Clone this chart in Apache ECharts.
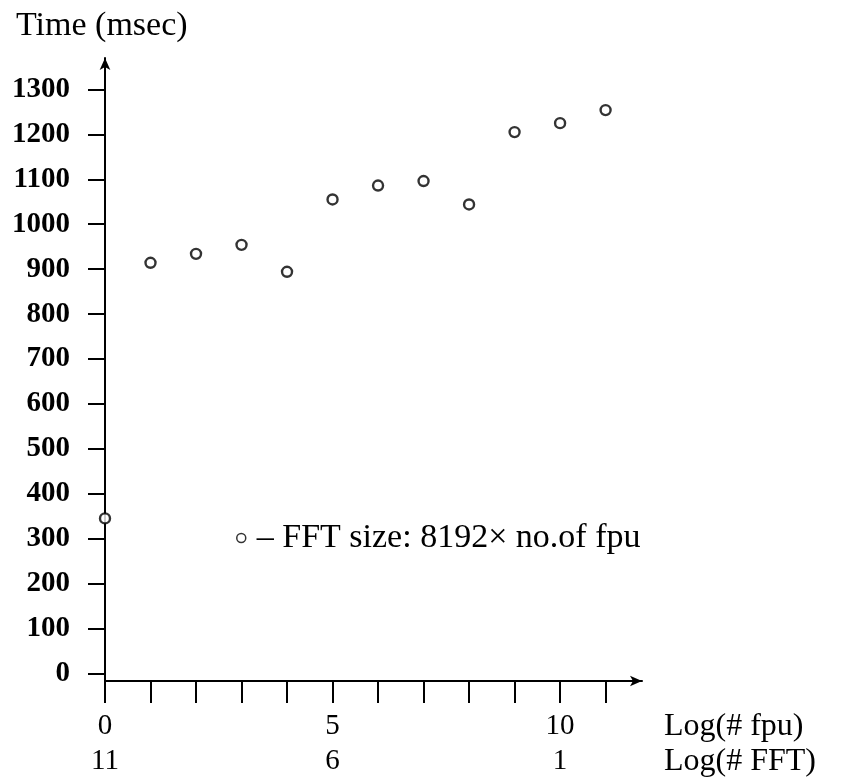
<!DOCTYPE html>
<html>
<head>
<meta charset="utf-8">
<script src="https://cdn.jsdelivr.net/npm/echarts@6/dist/echarts.min.js"></script>
<style>
  html, body { margin: 0; padding: 0; background: #fff; }
  #chart { width: 845px; height: 783px; }
</style>
</head>
<body>
<div id="chart"></div>
<script>
// log2 of number of fpu, and measured time
const logFpu = [0, 1, 2, 3, 4, 5, 6, 7, 8, 9, 10, 11]
const timeMsec = [345, 914, 934, 954, 894, 1055, 1086, 1096, 1044, 1205, 1225, 1254]
const yTicks = [0, 100, 200, 300, 400, 500, 600, 700, 800, 900, 1000, 1100, 1200, 1300]
const xTicks = [0, 1, 2, 3, 4, 5, 6, 7, 8, 9, 10, 11]
const xLabelAt = [0, 5, 10]
const logFft = { 0: '11', 5: '6', 10: '1' }
const seriesName = '– FFT size: 8192× no.of fpu'

const serif = '"Liberation Serif", "DejaVu Serif", serif'

const chart = echarts.init(document.getElementById('chart'))

chart.setOption({
  backgroundColor: '#fff',
  animation: false,
  title: {
    text: 'Time (msec)',
    left: 11,
    top: 4,
    textStyle: { fontFamily: serif, fontSize: 34, fontWeight: 'normal', color: '#000' }
  },
  legend: {
    left: 231,
    top: 516,
    itemWidth: 9,
    itemHeight: 9,
    icon: 'circle',
    itemStyle: { color: '#fff', borderColor: '#000', borderWidth: 1.5 },
    textStyle: { fontFamily: serif, fontSize: 34, color: '#000', padding: [0, 0, 0, 6] },
    data: [seriesName]
  },
  grid: { left: 105, right: 203, top: 58, bottom: 102 },
  xAxis: {
    type: 'value',
    min: 0,
    max: 11.8,
    name: 'Log(# fpu)\nLog(# FFT)',
    nameLocation: 'end',
    nameGap: 22,
    nameTextStyle: {
      fontFamily: serif, fontSize: 32, color: '#000', lineHeight: 35,
      align: 'left', verticalAlign: 'top', padding: [28, 0, 0, 0]
    },
    axisLine: {
      onZero: false,
      symbol: ['none', 'arrow'],
      symbolSize: [8, 12],
      lineStyle: { color: '#000', width: 2 }
    },
    axisTick: { customValues: xTicks, length: 22, lineStyle: { color: '#000', width: 2 } },
    axisLabel: {
      customValues: xLabelAt,
      margin: 28,
      lineHeight: 35,
      fontFamily: serif, fontSize: 29, color: '#000',
      formatter: v => v + '\n' + logFft[v]
    },
    splitLine: { show: false }
  },
  yAxis: {
    type: 'value',
    min: -17,
    max: 1370,
    axisLine: {
      onZero: false,
      symbol: ['none', 'arrow'],
      symbolSize: [8, 12],
      lineStyle: { color: '#000', width: 2 }
    },
    axisTick: { customValues: yTicks, length: 17, lineStyle: { color: '#000', width: 2 } },
    axisLabel: {
      customValues: yTicks,
      margin: 35,
      fontFamily: serif, fontSize: 29, fontWeight: 'bold', color: '#000',
      formatter: v => String(v)
    },
    splitLine: { show: false }
  },
  series: [{
    name: seriesName,
    type: 'scatter',
    symbol: 'circle',
    symbolSize: 10,
    itemStyle: { color: '#fff', borderColor: '#000', borderWidth: 2.4 },
    data: logFpu.map((x, i) => [x, timeMsec[i]])
  }]
})

window.addEventListener('resize', () => {
  chart.resize()
})
</script>
</body>
</html>
